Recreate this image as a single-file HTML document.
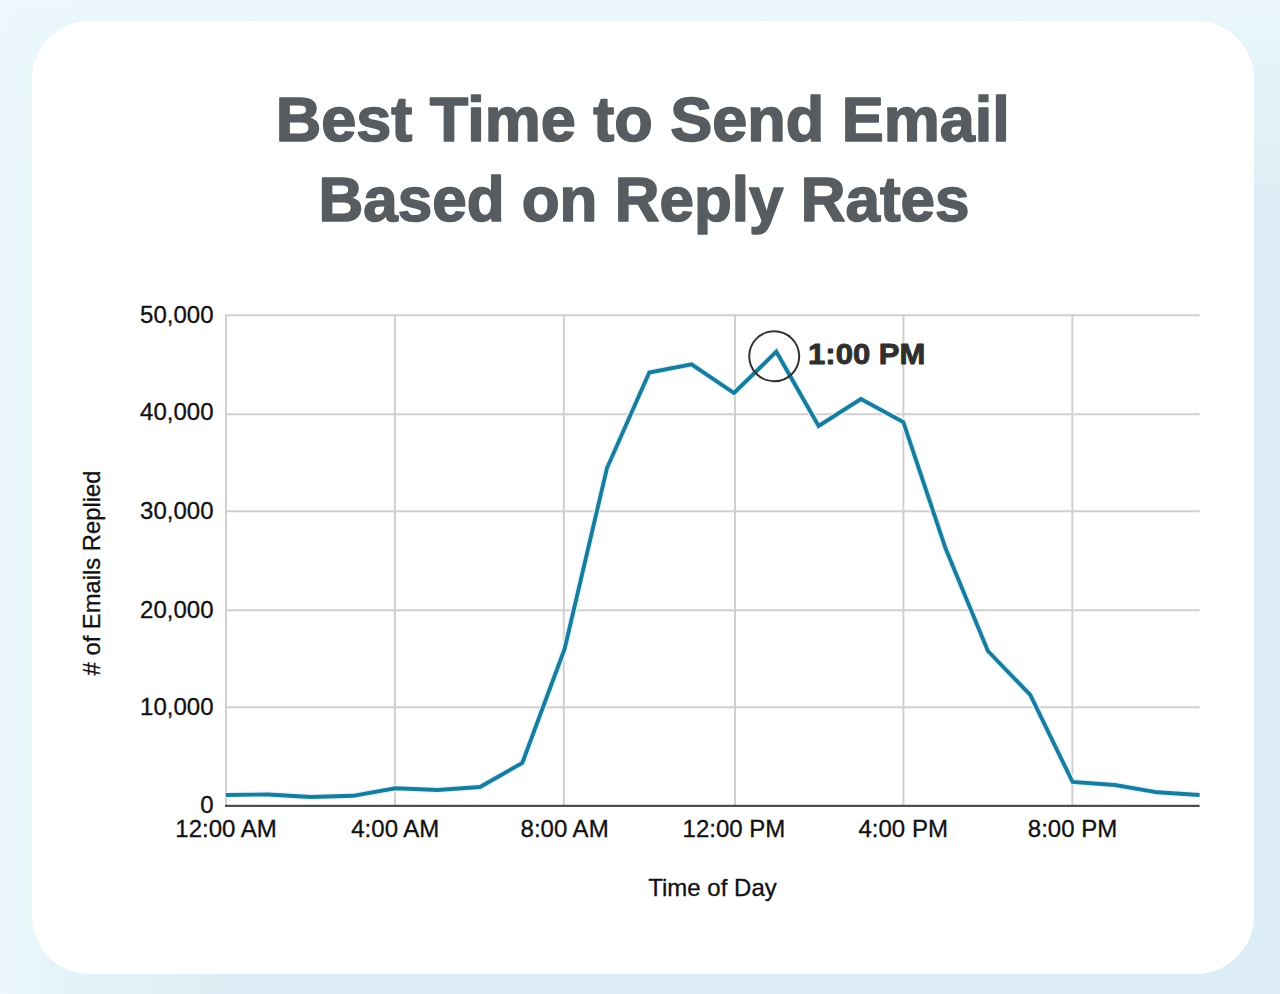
<!DOCTYPE html>
<html>
<head>
<meta charset="utf-8">
<style>
html,body{margin:0;padding:0;width:1280px;height:994px;overflow:hidden;}
body{background-color:#dcedf5;background-image:linear-gradient(to bottom,rgba(236,248,251,1) 0px,rgba(236,248,251,0.6) 60px,rgba(236,248,251,0) 220px),linear-gradient(to right,rgba(236,248,251,1) 0px,rgba(236,248,251,0.6) 60px,rgba(236,248,251,0) 240px);position:relative;font-family:"Liberation Sans",sans-serif;}
.card{position:absolute;left:32px;top:21px;width:1221.6px;height:953px;background:#fff;border-radius:58px;}
svg{position:absolute;left:0;top:0;}
</style>
</head>
<body>
<div class="card"></div>
<svg width="1280" height="994" viewBox="0 0 1280 994">
  <g font-family="Liberation Sans, sans-serif" font-weight="bold" fill="#565c5f" stroke="#565c5f" stroke-width="1.6" stroke-linejoin="round" text-anchor="middle">
    <text x="642.75" y="141" font-size="62.6" textLength="734" lengthAdjust="spacingAndGlyphs">Best Time to Send Email</text>
    <text x="644" y="221" font-size="62.6" textLength="651" lengthAdjust="spacingAndGlyphs">Based on Reply Rates</text>
  </g>
  <g stroke="#d0d0d0" stroke-width="2" fill="none">
    <line x1="225" y1="315.2" x2="1199.6" y2="315.2"/>
    <line x1="225" y1="414.2" x2="1199.6" y2="414.2"/>
    <line x1="225" y1="511.2" x2="1199.6" y2="511.2"/>
    <line x1="225" y1="610.2" x2="1199.6" y2="610.2"/>
    <line x1="225" y1="707.2" x2="1199.6" y2="707.2"/>
    <line x1="226.0" y1="314.2" x2="226.0" y2="806"/>
    <line x1="394.9" y1="314.2" x2="394.9" y2="806"/>
    <line x1="563.8" y1="314.2" x2="563.8" y2="806"/>
    <line x1="735.0" y1="314.2" x2="735.0" y2="806"/>
    <line x1="903.4" y1="314.2" x2="903.4" y2="806"/>
    <line x1="1072.4" y1="314.2" x2="1072.4" y2="806"/>
  </g>
  <line x1="225" y1="805.9" x2="1199.6" y2="805.9" stroke="#4b4f52" stroke-width="2.2"/>
  <polyline fill="none" stroke="#dff7fd" stroke-width="6.5" stroke-linejoin="miter" points="226.0,795 268.3,794.5 310.7,797 353.0,795.8 395.3,788.3 437.6,790 480.0,787 522.3,763 564.6,649 607.0,468 649.3,372.5 691.6,364.4 734.0,393 776.3,351.7 818.6,426 860.9,399.1 903.3,422 945.6,548.5 987.9,651 1030.3,695 1072.6,782 1114.9,785 1157.3,792.3 1199.6,795"/>
  <polyline fill="none" stroke="#1a7b9c" stroke-width="3.9" stroke-linejoin="miter" points="226.0,795 268.3,794.5 310.7,797 353.0,795.8 395.3,788.3 437.6,790 480.0,787 522.3,763 564.6,649 607.0,468 649.3,372.5 691.6,364.4 734.0,393 776.3,351.7 818.6,426 860.9,399.1 903.3,422 945.6,548.5 987.9,651 1030.3,695 1072.6,782 1114.9,785 1157.3,792.3 1199.6,795"/>
  <circle cx="774.2" cy="356.3" r="25" fill="none" stroke="#333" stroke-width="2"/>
  <text x="808" y="363.6" font-family="Liberation Sans, sans-serif" font-weight="bold" font-size="30" fill="#2f2f2f" stroke="#2f2f2f" stroke-width="0.9" stroke-linejoin="round" textLength="117.5" lengthAdjust="spacingAndGlyphs">1:00 PM</text>
  <g font-family="Liberation Sans, sans-serif" font-size="24" fill="#111" stroke="#111" stroke-width="0.3" text-anchor="end">
    <text x="213.5" y="322.7">50,000</text>
    <text x="213.5" y="420.3">40,000</text>
    <text x="213.5" y="518.8">30,000</text>
    <text x="213.5" y="617.5">20,000</text>
    <text x="213.5" y="714.8">10,000</text>
    <text x="213.5" y="812.5">0</text>
  </g>
  <g font-family="Liberation Sans, sans-serif" font-size="24" fill="#111" stroke="#111" stroke-width="0.3" text-anchor="middle">
    <text x="226" y="836.5">12:00 AM</text>
    <text x="395.3" y="836.5">4:00 AM</text>
    <text x="564.6" y="836.5">8:00 AM</text>
    <text x="733.9" y="836.5">12:00 PM</text>
    <text x="903.2" y="836.5">4:00 PM</text>
    <text x="1072.5" y="836.5">8:00 PM</text>
    <text x="712.5" y="895.7">Time of Day</text>
    <text transform="translate(100,573) rotate(-90)" x="0" y="0" textLength="204.8" lengthAdjust="spacingAndGlyphs"># of Emails Replied</text>
  </g>
</svg>
</body>
</html>
